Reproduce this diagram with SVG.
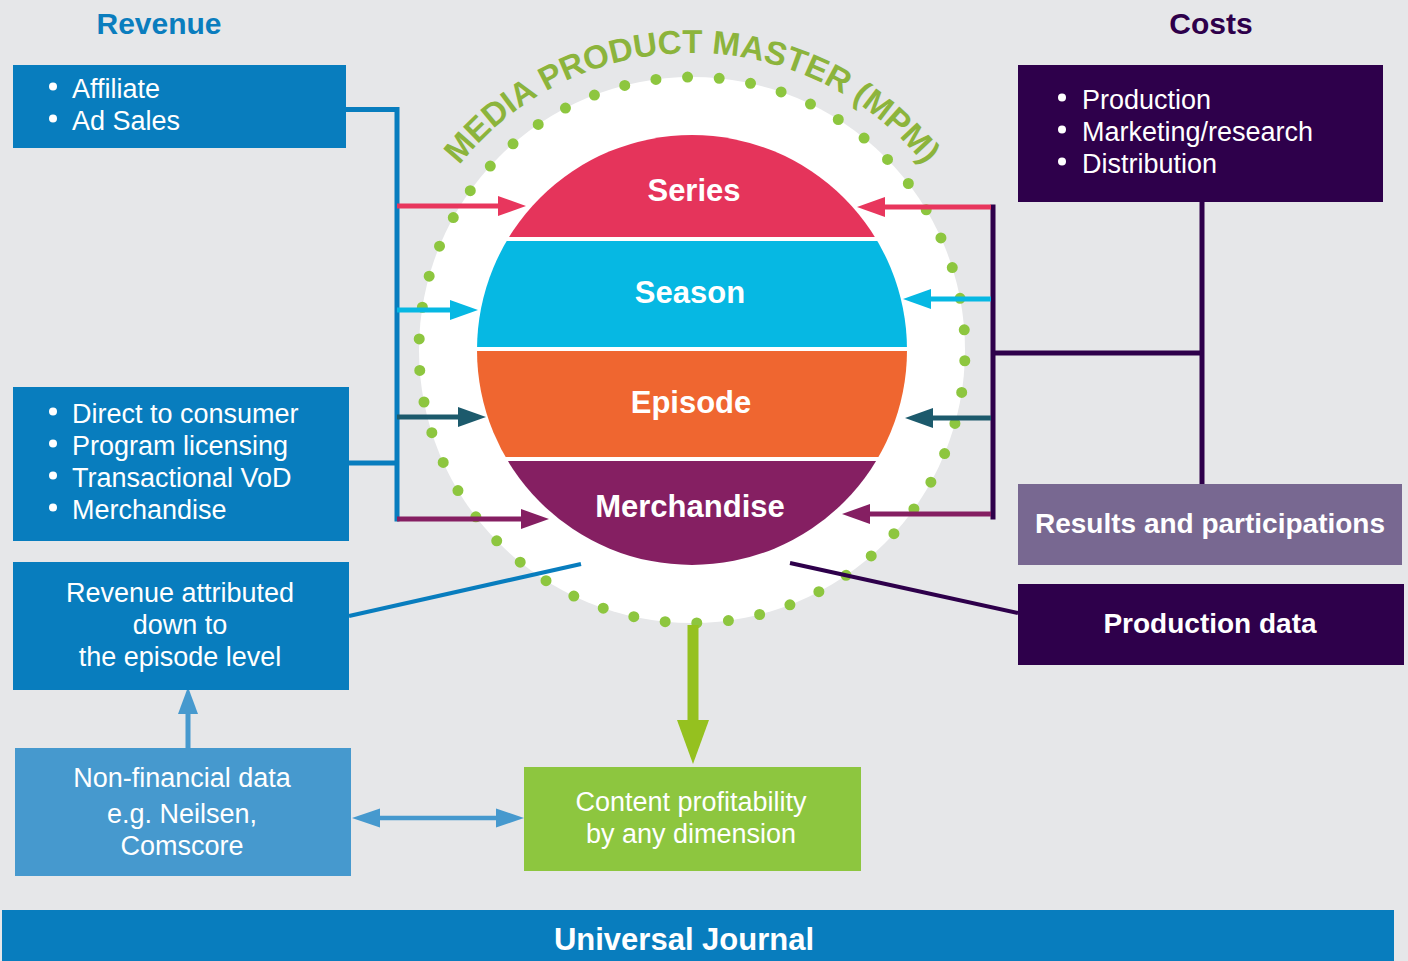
<svg xmlns="http://www.w3.org/2000/svg" width="1408" height="961" viewBox="0 0 1408 961">
<defs>
<style>
.t{font-family:"Liberation Sans",Arial,sans-serif;fill:#fff;font-size:27px}
.b{font-weight:bold}
.c{text-anchor:middle}
.bul{fill:#fff}
.ln{fill:none;stroke-width:5}
.lbl{font-family:"Liberation Sans",Arial,sans-serif;font-weight:bold;fill:#fff;font-size:31px;text-anchor:middle}
</style>
<marker id="mPink" markerUnits="userSpaceOnUse" markerWidth="28" markerHeight="20" refX="8" refY="10" orient="auto" viewBox="0 0 28 20"><path d="M0,0 L28,10 L0,20 z" fill="#E8365D"/></marker>
<marker id="mCyan" markerUnits="userSpaceOnUse" markerWidth="28" markerHeight="20" refX="8" refY="10" orient="auto" viewBox="0 0 28 20"><path d="M0,0 L28,10 L0,20 z" fill="#06B8E3"/></marker>
<marker id="mTeal" markerUnits="userSpaceOnUse" markerWidth="28" markerHeight="20" refX="8" refY="10" orient="auto" viewBox="0 0 28 20"><path d="M0,0 L28,10 L0,20 z" fill="#1C5A6C"/></marker>
<marker id="mPurp" markerUnits="userSpaceOnUse" markerWidth="28" markerHeight="20" refX="8" refY="10" orient="auto" viewBox="0 0 28 20"><path d="M0,0 L28,10 L0,20 z" fill="#851F62"/></marker>
<clipPath id="inner"><circle cx="692" cy="350" r="215"/></clipPath>
<path id="arc" d="M395,350 A297,297 0 0 1 989,350"/>
</defs>
<rect width="1408" height="961" fill="#E6E7E9"/>

<g id="mpm">
<circle cx="692" cy="350" r="273" fill="#FFFFFF"/>
<circle cx="692" cy="350" r="273" fill="none" stroke="#8DC63F" stroke-width="11" stroke-linecap="round" stroke-dasharray="0 31.765" stroke-dashoffset="20.9"/>
<text font-family="Liberation Sans, Arial, sans-serif" font-weight="bold" font-size="33" fill="#8CB43C"><textPath href="#arc" startOffset="50%" text-anchor="middle">MEDIA PRODUCT MASTER (MPM)</textPath></text>
<g clip-path="url(#inner)">
<rect x="470" y="130" width="450" height="107" fill="#E5345B"/>
<rect x="470" y="241" width="450" height="106" fill="#06B8E3"/>
<rect x="470" y="351" width="450" height="106" fill="#EF6630"/>
<rect x="470" y="461" width="450" height="110" fill="#851F62"/>
</g>
</g>
<g id="series"><text class="lbl" x="694" y="201">Series</text></g>
<g id="season"><text class="lbl" x="690" y="303">Season</text></g>
<g id="episode"><text class="lbl" x="691" y="413">Episode</text></g>
<g id="merchandise"><text class="lbl" x="690" y="517">Merchandise</text></g>

<g id="connectors">
<path class="ln" d="M346,109.5 H399 M349,463 H397" stroke="#087DBE" stroke-width="4"/>
<path class="ln" d="M397,107 V521.5" stroke="#087DBE"/>
<line x1="397" y1="206" x2="506" y2="206" class="ln" stroke="#E8365D" marker-end="url(#mPink)"/>
<line x1="397" y1="310" x2="458" y2="310" class="ln" stroke="#06B8E3" marker-end="url(#mCyan)"/>
<line x1="397" y1="417" x2="466" y2="417" class="ln" stroke="#1C5A6C" marker-end="url(#mTeal)"/>
<line x1="397" y1="519" x2="529" y2="519" class="ln" stroke="#851F62" marker-end="url(#mPurp)"/>
<path class="ln" d="M993,204.5 V519.5" stroke="#2E004B"/>
<path class="ln" d="M993,353 H1202 M1202,202 V484" stroke="#2E004B" stroke-width="4"/>
<line x1="991" y1="207" x2="877" y2="207" class="ln" stroke="#E8365D" marker-end="url(#mPink)"/>
<line x1="991" y1="299" x2="923" y2="299" class="ln" stroke="#06B8E3" marker-end="url(#mCyan)"/>
<line x1="991" y1="418" x2="925" y2="418" class="ln" stroke="#1C5A6C" marker-end="url(#mTeal)"/>
<line x1="991" y1="514" x2="862" y2="514" class="ln" stroke="#851F62" marker-end="url(#mPurp)"/>
<line x1="349" y1="616" x2="581" y2="564" stroke="#087DBE" stroke-width="4"/>
<line x1="790" y1="563" x2="1018" y2="613" stroke="#2E004B" stroke-width="4"/>
<line x1="693" y1="625" x2="693" y2="722" stroke="#95C11F" stroke-width="11"/>
<polygon points="677,720 709,720 693,764" fill="#95C11F"/>
<line x1="188" y1="748" x2="188" y2="712" stroke="#4699CE" stroke-width="5"/>
<polygon points="178,714 198,714 188,687" fill="#4699CE"/>
<line x1="378" y1="818" x2="498" y2="818" stroke="#4699CE" stroke-width="4.5"/>
<polygon points="352,818 380,808.5 380,827.5" fill="#4699CE"/>
<polygon points="524,818 496,808.5 496,827.5" fill="#4699CE"/>
</g>

<g id="revenue-title"><text class="t b c" x="159" y="34" style="fill:#0A7DBE;font-size:30px">Revenue</text></g>
<g id="costs-title"><text class="t b c" x="1211" y="34" style="fill:#2E004B;font-size:30px">Costs</text></g>

<g id="revenue-box-1">
<rect x="13" y="65" width="333" height="83" fill="#087DBE"/>
<circle class="bul" cx="53" cy="86.5" r="4"/>
<circle class="bul" cx="53" cy="118.5" r="4"/>
<text class="t" x="72" y="98">Affiliate</text>
<text class="t" x="72" y="130">Ad Sales</text>
</g>

<g id="revenue-box-2">
<rect x="13" y="387" width="336" height="154" fill="#087DBE"/>
<circle class="bul" cx="53" cy="411.5" r="4"/>
<circle class="bul" cx="53" cy="443.5" r="4"/>
<circle class="bul" cx="53" cy="475.5" r="4"/>
<circle class="bul" cx="53" cy="507.5" r="4"/>
<text class="t" x="72" y="423">Direct to consumer</text>
<text class="t" x="72" y="455">Program licensing</text>
<text class="t" x="72" y="487">Transactional VoD</text>
<text class="t" x="72" y="519">Merchandise</text>
</g>

<g id="revenue-attributed">
<rect x="13" y="562" width="336" height="128" fill="#087DBE"/>
<text class="t c" x="180" y="602">Revenue attributed</text>
<text class="t c" x="180" y="634">down to</text>
<text class="t c" x="180" y="666">the episode level</text>
</g>

<g id="non-financial">
<rect x="15" y="748" width="336" height="128" fill="#4699CE"/>
<text class="t c" x="182" y="787">Non-financial data</text>
<text class="t c" x="182" y="823">e.g. Neilsen,</text>
<text class="t c" x="182" y="855">Comscore</text>
</g>

<g id="content-profitability">
<rect x="524" y="767" width="337" height="104" fill="#8DC63F"/>
<text class="t c" x="691" y="811">Content profitability</text>
<text class="t c" x="691" y="843">by any dimension</text>
</g>

<g id="costs-box">
<rect x="1018" y="65" width="365" height="137" fill="#2E004B"/>
<circle class="bul" cx="1062" cy="97.5" r="4"/>
<circle class="bul" cx="1062" cy="129.5" r="4"/>
<circle class="bul" cx="1062" cy="161.5" r="4"/>
<text class="t" x="1082" y="109">Production</text>
<text class="t" x="1082" y="141">Marketing/research</text>
<text class="t" x="1082" y="173">Distribution</text>
</g>

<g id="results">
<rect x="1018" y="484" width="384" height="81" fill="#786891"/>
<text class="t b c" x="1210" y="533" style="font-size:28px">Results and participations</text>
</g>

<g id="production-data">
<rect x="1018" y="584" width="386" height="81" fill="#2E004B"/>
<text class="t b c" x="1210" y="633" style="font-size:28px">Production data</text>
</g>

<g id="universal-journal">
<rect x="2" y="910" width="1392" height="60" fill="#087DBE"/>
<text class="t b c" x="684" y="950" style="font-size:31px">Universal Journal</text>
</g>
</svg>
